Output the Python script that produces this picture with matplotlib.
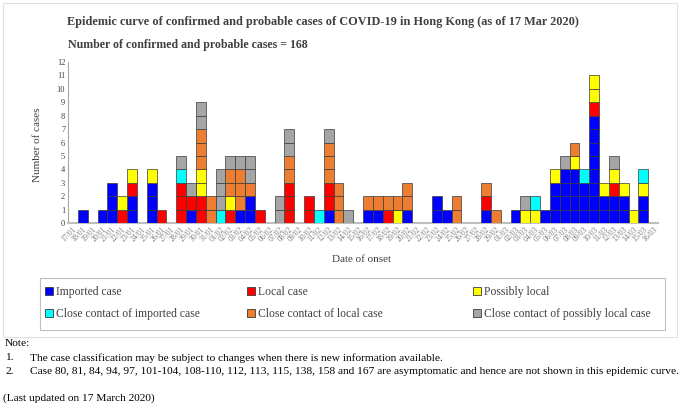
import matplotlib
matplotlib.use("Agg")
import matplotlib.pyplot as plt
from matplotlib.patches import Rectangle
import numpy as np
import pandas as pd

# ---------------- data ----------------
dates = list(pd.date_range("2020-01-17", "2020-03-16").strftime("%d/%m"))

imported = [0,1,0,1,3,0,2,0,3,0, 0,0,1,0,0,0,0,1,2,0, 0,0,0,0,0,0,1,0,0,0,
            1,1,0,0,1,0,0,2,1,0, 0,0,1,0,0,1,0,0,1,3, 4,4,3,8,2,2,2,0,2,0]
local = [0,0,0,0,0,1,1,0,0,1, 0,3,1,2,0,0,1,0,0,1, 0,0,3,0,2,0,2,0,0,0,
         0,0,1,0,0,0,0,0,0,0, 0,0,1,0,0,0,0,0,0,0, 0,0,0,1,0,1,0,0,0,0]
possibly_local = [0,0,0,0,0,1,1,0,1,0, 0,0,0,2,0,0,1,0,0,0, 0,0,0,0,0,0,0,0,0,0,
                  0,0,0,1,0,0,0,0,0,0, 0,0,0,0,0,0,1,1,0,1, 0,1,0,2,1,1,1,1,1,0]
cc_imported = [0,0,0,0,0,0,0,0,0,0, 0,1,0,0,0,1,0,0,0,0, 0,0,0,0,0,1,0,0,0,0,
               0,0,0,0,0,0,0,0,0,0, 0,0,0,0,0,0,0,1,0,0, 0,0,1,0,0,0,0,0,1,0]
cc_local = [0,0,0,0,0,0,0,0,0,0, 0,0,0,3,2,0,2,3,1,0, 0,0,2,0,0,0,3,3,0,0,
            1,1,1,1,2,0,0,0,0,2, 0,0,1,1,0,0,0,0,0,0, 0,1,0,0,0,0,0,0,0,0]
cc_possibly = [0,0,0,0,0,0,0,0,0,0, 0,1,1,2,0,3,1,1,2,0, 0,2,2,0,0,0,1,0,1,0,
               0,0,0,0,0,0,0,0,0,0, 0,0,0,0,0,0,1,0,0,0, 1,0,0,0,0,1,0,0,0,0]

series_labels = ["Imported case", "Local case", "Possibly local",
                 "Close contact of imported case", "Close contact of local case",
                 "Close contact of possibly local case"]
series_colors = ["#0000FF", "#FF0000", "#FFFF00", "#00FFFF", "#ED7D31", "#A5A5A5"]
series_values = [imported, local, possibly_local, cc_imported, cc_local, cc_possibly]

y_ticks = list(range(0, 13))

# ---------------- figure ----------------
W, H = 680, 409
fig = plt.figure(figsize=(W / 100, H / 100), dpi=100)
plt.rcParams["font.family"] = ["Liberation Serif", "DejaVu Serif"]

def fx(x):
    return x / W

def fy(y):
    return 1 - y / H

# outer faint frame
fig.patches.append(Rectangle((fx(3), fy(337)), fx(674), (337 - 3) / H,
                             transform=fig.transFigure, fill=False,
                             edgecolor="#e0e0e0", linewidth=0.8))

ax = fig.add_axes([fx(68), fy(223), fx(658) - fx(68), fy(62) - fy(223)])
x = np.arange(len(dates))
bottom = np.zeros(len(dates))
for vals, col in zip(series_values, series_colors):
    v = np.array(vals)
    for k in range(v.max()):
        m = v > k
        ax.bar(x[m], 1, width=1.0, bottom=bottom[m] + k, color=col,
               edgecolor="#3a3a3a", linewidth=0.5, zorder=3)
    bottom += v

ax.set_xlim(-0.5, len(dates) - 0.5)
ax.set_ylim(0, 12)
ax.set_yticks(y_ticks)
ax.set_yticklabels([str(t) for t in y_ticks], fontsize=6, color="#404040")
ax.set_xticks(x)
ax.set_xticklabels(dates, rotation=45, ha="right", rotation_mode="anchor",
                   fontsize=5.6, color="#808080")
ax.tick_params(axis="both", length=0, pad=2)
for s in ["top", "right"]:
    ax.spines[s].set_visible(False)
ax.spines["left"].set_color("#a6a6a6")
ax.spines["left"].set_linewidth(0.8)
ax.spines["bottom"].set_color("#bfbfbf")
ax.spines["bottom"].set_linewidth(1.5)

fig.text(fx(37), fy(145), "Number of cases", rotation=90, ha="center",
         va="center", fontsize=8, color="#404040")
fig.text(fx(361), fy(260), "Date of onset", ha="center", va="center",
         fontsize=8, color="#404040")

fig.text(fx(67), fy(22), "Epidemic curve of confirmed and probable cases of "
         "COVID-19 in Hong Kong (as of 17 Mar 2020)", ha="left", va="center",
         fontsize=8.8, fontweight="bold", color="#404040")
fig.text(fx(68), fy(45), "Number of confirmed and probable cases = 168",
         ha="left", va="center", fontsize=8.6, fontweight="bold", color="#404040")

# legend box
fig.patches.append(Rectangle((fx(40), fy(330)), fx(665) - fx(40), (330 - 278) / H,
                             transform=fig.transFigure, fill=False,
                             edgecolor="#bfbfbf", linewidth=0.8))
col_x = [45, 247, 473]
row_y = [292, 314]
for i, (lab, col) in enumerate(zip(series_labels, series_colors)):
    cx = col_x[i % 3]
    cy = row_y[i // 3]
    fig.patches.append(Rectangle((fx(cx), fy(cy + 3)), 8 / W, 8 / H,
                                 transform=fig.transFigure, facecolor=col,
                                 edgecolor="#3a3a3a", linewidth=0.6))
    fig.text(fx(cx + 11), fy(cy), lab, ha="left", va="center", fontsize=8.4,
             color="#404040")

fs = 8.2
fig.text(fx(5), fy(344), "Note:", ha="left", va="center", fontsize=fs)
fig.text(fx(5), fy(358), "1.", ha="left", va="center", fontsize=fs)
fig.text(fx(30), fy(358), "The case classification may be subject to changes "
         "when there is new information available.", ha="left", va="center",
         fontsize=fs)
fig.text(fx(5), fy(372), "2.", ha="left", va="center", fontsize=fs)
fig.text(fx(30), fy(372), "Case 80, 81, 84, 94, 97, 101-104, 108-110, 112, 113, "
         "115, 138, 158 and 167 are asymptomatic and hence are not shown in this "
         "epidemic curve.", ha="left", va="center", fontsize=fs)
fig.text(fx(3), fy(398), "(Last updated on 17 March 2020)", ha="left",
         va="center", fontsize=fs)

fig.savefig("out.png", dpi=100)
